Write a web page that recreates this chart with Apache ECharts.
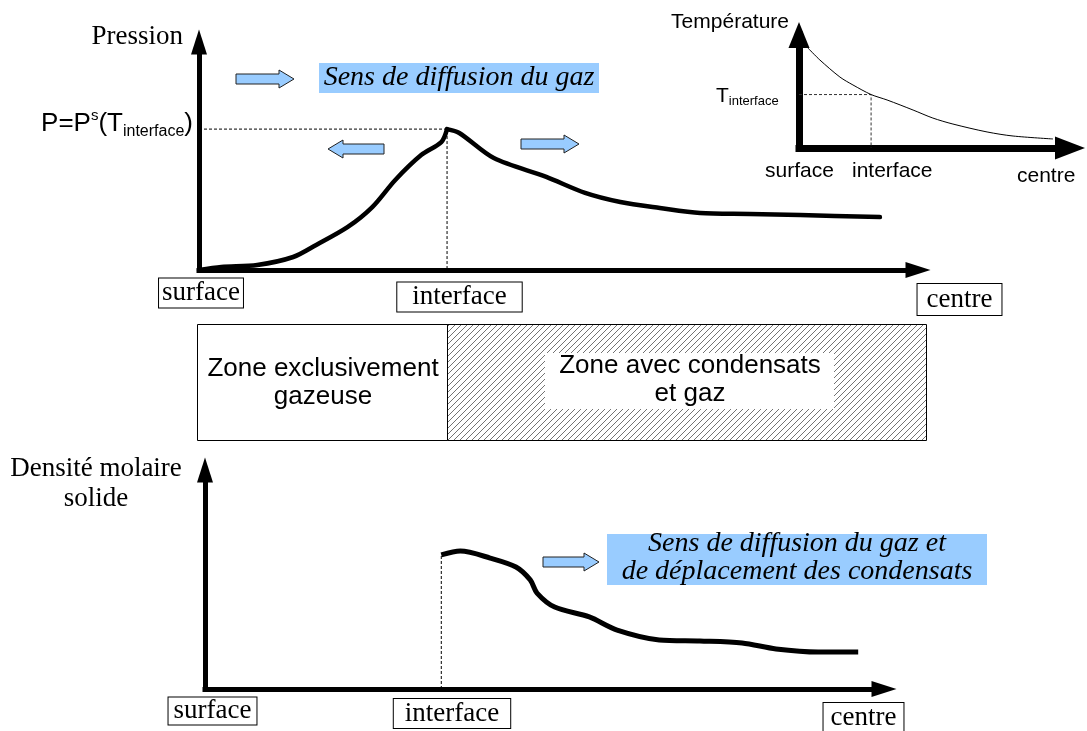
<!DOCTYPE html>
<html><head><meta charset="utf-8">
<script src="https://cdn.jsdelivr.net/npm/echarts@6/dist/echarts.min.js"></script>
<style>html,body{margin:0;padding:0;background:#fff}#c{width:1087px;height:731px}</style>
</head><body><div id="c"></div>
<script>
// ---- Data (normalised depth 0..100 from surface, values 0..100) ----
const pressionX = [0, 3.1, 8.1, 13.1, 16.3, 20.7, 24.1, 27.3, 30.9, 33.7, 34.5, 36.2, 41.0, 48.3, 53.7, 58.6, 64.1, 69.7, 76.6, 83.6, 94.7];
const pressionY = [0, 1.3, 2.2, 5.7, 11.0, 18.9, 27.6, 39.5, 50.4, 56.1, 61.8, 60.1, 49.1, 40.8, 33.8, 29.8, 27.2, 25.0, 24.6, 24.1, 23.2];

const tempX = [3.3, 7.7, 15.1, 19.9, 26.6, 32.5, 42.1, 49.4, 56.8, 69.4, 79.0, 93.7];
const tempY = [88.5, 77.9, 62.8, 55.8, 47.3, 42.5, 33.6, 26.5, 21.2, 14.2, 10.6, 8.0];
const tempInterfaceIndex = 4;

const densiteX = [34.8, 37.6, 42.0, 45.8, 47.9, 48.9, 51.5, 56.6, 60.7, 66.9, 72.9, 79.1, 84.1, 90.3, 96.2];
const densiteY = [61.2, 63.0, 59.8, 55.7, 49.8, 43.8, 37.4, 32.9, 26.9, 22.4, 21.9, 21.0, 18.3, 16.9, 16.9];

const axisTicks = ['surface', 'interface', 'centre'];
const pressionTitle = 'Pression';
const densiteTitle = 'Densité molaire\nsolide';
const tempTitle = 'Température';
const zoneGaz = 'Zone exclusivement\ngazeuse';
const zoneCond = 'Zone avec condensats\net gaz';
const noteTop = 'Sens de diffusion du gaz';
const noteBottom = 'Sens de diffusion du gaz et\nde déplacement des condensats';

// ---- helpers ----
const zip = (xs, ys) => xs.map((x, i) => [x, ys[i]]);
let peakI = 0;
pressionY.forEach((v, i) => { if (v > pressionY[peakI]) peakI = i; });
const pk = [pressionX[peakI], pressionY[peakI]];
const pAll = zip(pressionX, pressionY);
const pRise = pAll.slice(0, peakI + 1);
const pFall = pAll.slice(peakI);
const ti = [tempX[tempInterfaceIndex], tempY[tempInterfaceIndex]];
const d0 = [densiteX[0], densiteY[0]];

function axis(grid, w, sym) {
  return {
    gridIndex: grid, type: 'value', min: 0, max: 100,
    axisLine: { show: true, onZero: false, symbol: ['none', 'triangle'], symbolSize: sym,
      lineStyle: { color: '#000', width: w, cap: 'square' } },
    axisTick: { show: false }, axisLabel: { show: false }, splitLine: { show: false }
  };
}

const serif = '"Liberation Serif", "Times New Roman", serif';
const sans = '"Liberation Sans", Arial, sans-serif';

// hatch pattern
const pc = document.createElement('canvas');
pc.width = 6; pc.height = 6;
const g = pc.getContext('2d');
g.strokeStyle = '#444'; g.lineWidth = 0.75;
g.beginPath();
g.moveTo(0, 6); g.lineTo(6, 0);
g.moveTo(-1, 1); g.lineTo(1, -1);
g.moveTo(5, 7); g.lineTo(7, 5);
g.stroke();

function arrow(x0, x1, y, left) {
  const hl = 15, bh = 5, hh = 9;
  let pts;
  if (!left) {
    const xh = x1 - hl;
    pts = [[x0, y - bh], [xh, y - bh], [xh, y - hh], [x1, y], [xh, y + hh], [xh, y + bh], [x0, y + bh]];
  } else {
    const xh = x0 + hl;
    pts = [[x1, y - bh], [xh, y - bh], [xh, y - hh], [x0, y], [xh, y + hh], [xh, y + bh], [x1, y + bh]];
  }
  return { type: 'polygon', z: 100, shape: { points: pts }, style: { fill: '#99ccff', stroke: '#222', lineWidth: 1 } };
}

function boxLabel(text, x, y, padH, padV) {
  return { type: 'text', z: 100, x: x, y: y,
    style: { text: text, font: '27px ' + serif, fill: '#000', align: 'center', verticalAlign: 'middle',
      lineHeight: 27, backgroundColor: '#fff', borderColor: '#000', borderWidth: 1, padding: [padV, padH] } };
}

const thick = (w) => ({ color: '#000', width: w, cap: 'round', join: 'round' });

const chart = echarts.init(document.getElementById('c'));
chart.setOption({
  animation: false,
  backgroundColor: '#fff',
  grid: [
    { left: 199, top: 42, width: 719, height: 228 },
    { left: 799, top: 35, width: 271, height: 113 },
    { left: 205, top: 470, width: 679, height: 219 }
  ],
  xAxis: [axis(0, 5, [16, 25]), axis(1, 7, [23, 30]), axis(2, 5, [16, 25])],
  yAxis: [axis(0, 5, [16, 25]), axis(1, 7, [21, 26]), axis(2, 5, [16, 25])],
  series: [
    { type: 'line', xAxisIndex: 0, yAxisIndex: 0, data: pRise, smooth: 0.3,
      symbol: 'none', lineStyle: thick(4.5), z: 3 },
    { type: 'line', xAxisIndex: 0, yAxisIndex: 0, data: pFall, smooth: 0.3,
      symbol: 'none', lineStyle: thick(4.5), z: 3 },
    { type: 'line', xAxisIndex: 0, yAxisIndex: 0, data: [[0, pk[1]], pk, [pk[0], 0]],
      symbol: 'none', lineStyle: { color: '#000', width: 1, type: [3, 2] }, z: 1 },
    { type: 'line', xAxisIndex: 1, yAxisIndex: 1, data: zip(tempX, tempY), smooth: 0.3,
      symbol: 'none', lineStyle: { color: '#000', width: 1 }, z: 3 },
    { type: 'line', xAxisIndex: 1, yAxisIndex: 1, data: [[0, ti[1]], ti, [ti[0], 0]],
      symbol: 'none', lineStyle: { color: '#333', width: 1, type: [3, 2] }, z: 1 },
    { type: 'line', xAxisIndex: 2, yAxisIndex: 2, data: zip(densiteX, densiteY), smooth: 0.3,
      symbol: 'none', lineStyle: { color: '#000', width: 5 }, z: 3 },
    { type: 'line', xAxisIndex: 2, yAxisIndex: 2, data: [[d0[0], 0], d0],
      symbol: 'none', lineStyle: { color: '#000', width: 1, type: [3, 2] }, z: 1 }
  ],
  graphic: [
    // titles
    { type: 'text', z: 100, x: 183, y: 37, style: { text: pressionTitle, font: '27px ' + serif, fill: '#000', align: 'right', verticalAlign: 'middle' } },
    { type: 'text', z: 100, x: 193, y: 124, style: {
        text: '{a|P=P}{s|s}{a|(T}{i|interface}{a|)}', align: 'right', verticalAlign: 'middle',
        rich: {
          a: { fontSize: 26, fontFamily: sans, color: '#000', lineHeight: 32 },
          s: { fontSize: 15, fontFamily: sans, color: '#000', lineHeight: 14, verticalAlign: 'top' },
          i: { fontSize: 16, fontFamily: sans, color: '#000', lineHeight: 12, verticalAlign: 'bottom' }
        } } },
    { type: 'text', z: 100, x: 96, y: 484, style: { text: densiteTitle, font: '27px ' + serif, fill: '#000', align: 'center', verticalAlign: 'middle', lineHeight: 30 } },
    // inset texts
    { type: 'text', z: 100, x: 789, y: 22, style: { text: tempTitle, font: '21px ' + sans, fill: '#000', align: 'right', verticalAlign: 'middle' } },
    { type: 'text', z: 100, x: 716, y: 96, style: {
        text: '{a|T}{i|interface}', align: 'left', verticalAlign: 'middle',
        rich: {
          a: { fontSize: 21, fontFamily: sans, color: '#000', lineHeight: 24 },
          i: { fontSize: 13, fontFamily: sans, color: '#000', lineHeight: 8, verticalAlign: 'bottom' }
        } } },
    { type: 'text', z: 100, x: 765, y: 171, style: { text: axisTicks[0], font: '21px ' + sans, fill: '#000', align: 'left', verticalAlign: 'middle' } },
    { type: 'text', z: 100, x: 852, y: 171, style: { text: axisTicks[1], font: '21px ' + sans, fill: '#000', align: 'left', verticalAlign: 'middle' } },
    { type: 'text', z: 100, x: 1017, y: 176, style: { text: axisTicks[2], font: '21px ' + sans, fill: '#000', align: 'left', verticalAlign: 'middle' } },
    // boxed axis labels
    boxLabel(axisTicks[0], 201, 293, 3, 1),
    boxLabel(axisTicks[1], 459.5, 297, 15, 1),
    boxLabel(axisTicks[2], 959.5, 299.5, 9, 2),
    boxLabel(axisTicks[0], 212.5, 711, 5, 0),
    boxLabel(axisTicks[1], 452, 713.5, 11, 1),
    boxLabel(axisTicks[2], 863.5, 717.5, 7, 1),
    // blue notes
    { type: 'rect', z: 90, shape: { x: 319, y: 63, width: 280, height: 30 }, style: { fill: '#99ccff' } },
    { type: 'text', z: 100, x: 459, y: 78, style: { text: noteTop, font: 'italic 28px ' + serif, fill: '#000', align: 'center', verticalAlign: 'middle' } },
    { type: 'rect', z: 90, shape: { x: 607, y: 534, width: 380, height: 51 }, style: { fill: '#99ccff' } },
    { type: 'text', z: 100, x: 797, y: 558, style: { text: noteBottom, font: 'italic 28px ' + serif, fill: '#000', align: 'center', verticalAlign: 'middle', lineHeight: 28 } },
    // arrows
    arrow(236, 294, 79, false),
    arrow(328, 384, 149, true),
    arrow(521, 579, 144, false),
    arrow(543, 599, 562, false),
    // zones
    { type: 'rect', z: 90, shape: { x: 197.5, y: 324.5, width: 250, height: 116 }, style: { fill: '#fff', stroke: '#000', lineWidth: 1 } },
    { type: 'rect', z: 90, shape: { x: 447.5, y: 324.5, width: 479, height: 116 }, style: { fill: { image: pc, repeat: 'repeat' }, stroke: '#000', lineWidth: 1 } },
    { type: 'rect', z: 95, shape: { x: 545, y: 353, width: 289, height: 56 }, style: { fill: '#fff' } },
    { type: 'text', z: 100, x: 323, y: 383, style: { text: zoneGaz, font: '26px ' + sans, fill: '#000', align: 'center', verticalAlign: 'middle', lineHeight: 28 } },
    { type: 'text', z: 100, x: 690, y: 380, style: { text: zoneCond, font: '26px ' + sans, fill: '#000', align: 'center', verticalAlign: 'middle', lineHeight: 28 } }
  ]
});
</script>
</body></html>
